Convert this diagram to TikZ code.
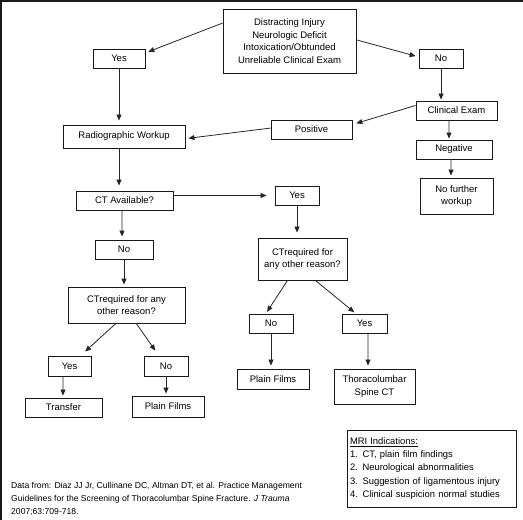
\documentclass[tikz,border=0pt]{standalone}
\usepackage{fontspec}
\setmainfont{Liberation Sans}
\usetikzlibrary{arrows.meta,calc}
\begin{document}
\begin{tikzpicture}[x=1bp,y=-1bp,
  box/.style={draw=black!90, line width=0.9bp, inner sep=1bp, align=center,
    font=\fontsize{9.5bp}{12.5bp}\selectfont},
  arr/.style={draw=black!85, line width=0.8bp, -{Triangle[length=6bp,width=5bp]}, shorten >=2bp}]
\useasboundingbox (0,0) rectangle (523,520);
\draw[line width=2.2bp, black!90] (1,521) -- (1,1) -- (524,1);
% nodes
\node[box, minimum width=133bp, minimum height=64bp] (top) at (289.5,41)
  {Distracting Injury\\Neurologic Deficit\\Intoxication/Obtunded\\Unreliable Clinical Exam};
\node[box, minimum width=52bp, minimum height=19bp] (yes1) at (119,58.5) {Yes};
\node[box, minimum width=44bp, minimum height=19bp] (no1) at (441,58.5) {No};
\node[box, minimum width=81bp, minimum height=19bp] (clin) at (456.5,110.5) {Clinical Exam};
\node[box, minimum width=81bp, minimum height=19bp] (pos) at (311.5,129.5) {Positive};
\node[box, minimum width=122bp, minimum height=23bp] (radio) at (124,136.5) {Radiographic Workup};
\node[box, minimum width=76bp, minimum height=19bp] (neg) at (454,149.5) {Negative};
\node[box, minimum width=73bp, minimum height=36bp] (nofurther) at (456.5,196) {No further\\workup};
\node[box, minimum width=97bp, minimum height=19bp] (ctavail) at (124.5,200.5) {CT Available?};
\node[box, minimum width=44bp, minimum height=19bp] (yes2) at (297,195.5) {Yes};
\node[box, minimum width=58bp, minimum height=19bp] (no2) at (124,249.5) {No};
\node[box, minimum width=89bp, minimum height=42bp] (ctreqR) at (302.5,259) {CTrequired for\\any other reason?};
\node[box, minimum width=117bp, minimum height=36bp] (ctreqL) at (126.5,305) {CTrequired for any\\other reason?};
\node[box, minimum width=44bp, minimum height=19bp] (no3) at (271,323.5) {No};
\node[box, minimum width=45bp, minimum height=19bp] (yes3) at (364.5,323.5) {Yes};
\node[box, minimum width=43bp, minimum height=20bp] (yes4) at (69.5,366) {Yes};
\node[box, minimum width=44bp, minimum height=20bp] (no4) at (166,366) {No};
\node[box, minimum width=77bp, minimum height=19bp] (transfer) at (63.5,407.5) {Transfer};
\node[box, minimum width=72bp, minimum height=21bp] (plainL) at (168,406.5) {Plain Films};
\node[box, minimum width=72bp, minimum height=20bp] (plainM) at (273,379) {Plain Films};
\node[box, minimum width=81bp, minimum height=35bp] (thoraco) at (374.5,386.5) {Thoracolumbar\\Spine CT};
\node[box, minimum width=169bp, minimum height=77bp, text width=163bp, align=left,
  inner xsep=3bp, font=\fontsize{9.4bp}{13.2bp}\selectfont] (mri) at (431.5,468.5)
  {\underline{MRI Indications:}\\1. CT, plain film findings\\2. Neurological abnormalities\\3. Suggestion of ligamentous injury\\4. Clinical suspicion normal studies};
\node[anchor=west, align=left, inner sep=0pt, font=\fontsize{8.6bp}{13bp}\selectfont] (note) at (11,499)
  {Data from: Diaz JJ Jr, Cullinane DC, Altman DT, et al. Practice Management\\Guidelines for the Screening of Thoracolumbar Spine Fracture. \textit{J Trauma}\\2007;63:709-718.};
% connectors
\draw[arr, shorten >=3bp] (top.165.7) -- (yes1.12);
\draw[arr, shorten >=3bp] (top.1.7) -- (no1.176);
\draw[arr, shorten >=4bp] (yes1.south) -- (yes1.south |- radio.north);
\draw[arr, shorten >=1bp] (no1.south) -- (no1.south |- clin.north);
\draw[arr, shorten >=4bp] (clin.173.7) -- (pos.7);
\draw[arr, shorten >=3bp] (pos.178) -- (radio.-2.3);
\draw[arr, shorten >=1bp] ([xshift=-7.5bp]clin.south) -- ([xshift=-5bp]neg.north);
\draw[arr] ([xshift=-3bp]neg.south) -- ([xshift=-5.5bp]nofurther.north);
\draw[arr, shorten >=5bp] (radio.south -| yes1.south) -- (ctavail.north -| yes1.south);
\draw[arr, shorten >=8bp] (ctavail.east |- yes2.west) -- (yes2.west);
\draw[arr, shorten >=3bp] ([xshift=-2.5bp]ctavail.south) -- ([xshift=-2bp]no2.north);
\draw[arr] (no2.south) -- (no2.south |- ctreqL.north);
\draw[arr, shorten >=5bp] (yes2.south) -- (yes2.south |- ctreqR.north);
\draw[arr] (ctreqR.235.4) -- (no3.117.8);
\draw[arr] (ctreqR.-59.2) -- (yes3.131.8);
\draw[arr, shorten >=6bp] (ctreqL.-120.3) -- (yes4.43.6);
\draw[arr, shorten >=6bp] (ctreqL.-62.2) -- (no4.125);
\draw[arr] ([xshift=-6.5bp]yes4.south) -- ([xshift=-0.5bp]transfer.north);
\draw[arr] (no4.south) -- (no4.south |- plainL.north);
\draw[arr, shorten >=3bp] (no3.south) -- (no3.south |- plainM.north);
\draw[arr, shorten >=3bp] ([xshift=3.5bp]yes3.south) -- ([xshift=-6.5bp]thoraco.north);
\end{tikzpicture}
\end{document}
